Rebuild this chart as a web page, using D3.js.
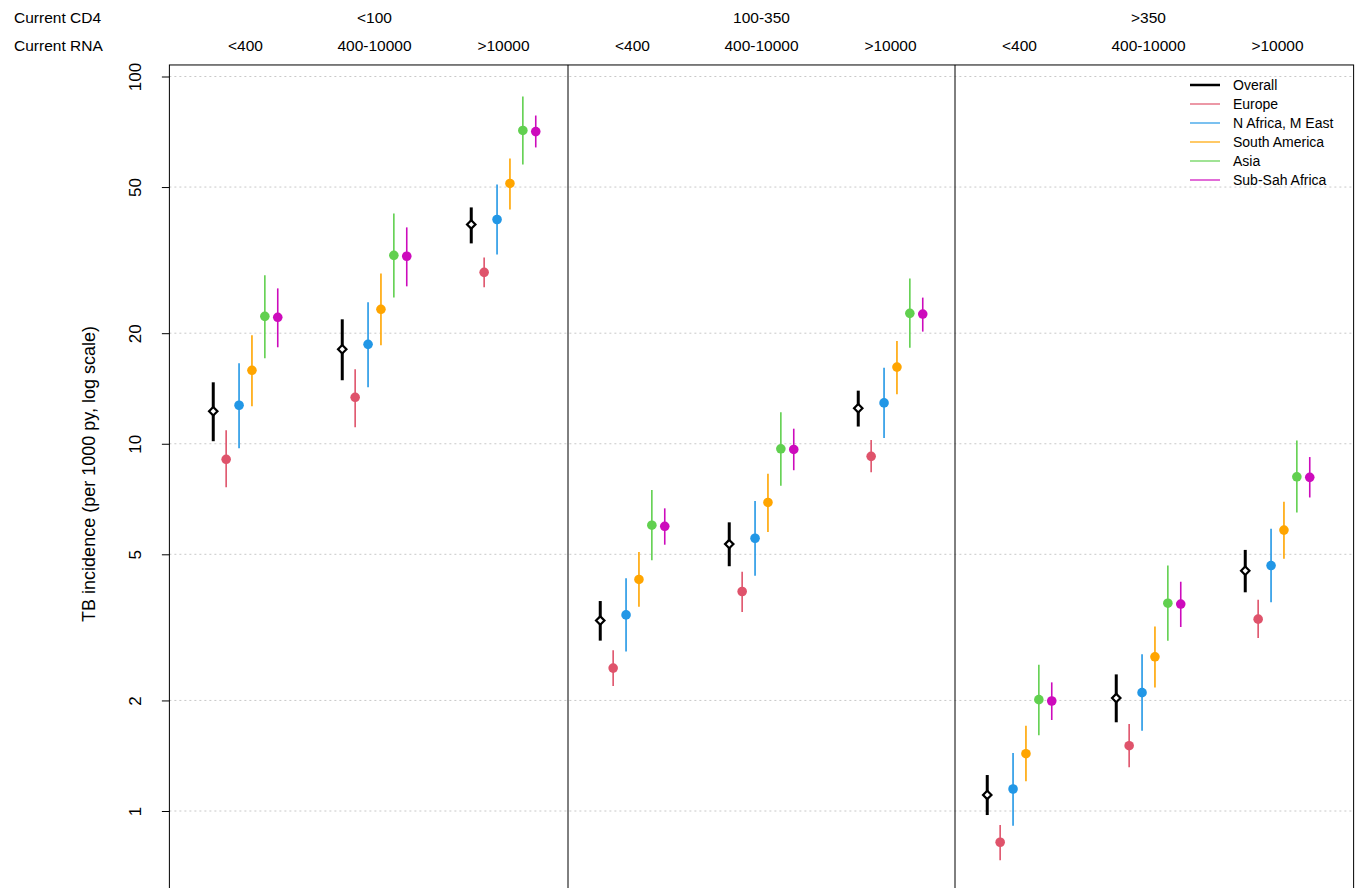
<!DOCTYPE html>
<html>
<head>
<meta charset="utf-8">
<script src="https://cdn.jsdelivr.net/npm/d3@7"></script>
<style>
  body { margin: 0; background: #fff; }
  svg { font-family: "Liberation Sans", Arial, sans-serif; }
</style>
</head>
<body>
<div id="chart"></div>
<script>
// data (TB incidence per 1000 py)
var cd4Labels = ["<100", "100-350", ">350"];
var rnaLabels = ["<400", "400-10000", ">10000", "<400", "400-10000", ">10000", "<400", "400-10000", ">10000"];
var seriesNames = ["Overall", "Europe", "N Africa, M East", "South America", "Asia", "Sub-Sah Africa"];
var seriesColors = ["#000000", "#DF536B", "#2297E6", "#FFA500", "#61D04F", "#CD0BBC"];
var yTicks = [1, 2, 5, 10, 20, 50, 100];

var overallEst = [12.26, 18.08, 39.56, 3.30, 5.33, 12.49, 1.106, 2.03, 4.51];
var overallLo  = [10.16, 14.89, 35.12, 2.91, 4.64, 11.14, 0.975, 1.744, 3.94];
var overallHi  = [14.70, 21.82, 44.01, 3.73, 6.11, 13.95, 1.253, 2.355, 5.14];

var europeEst = [9.07, 13.38, 29.29, 2.45, 3.96, 9.24, 0.822, 1.506, 3.33];
var europeLo  = [7.61, 11.09, 26.66, 2.19, 3.48, 8.36, 0.734, 1.315, 2.96];
var europeHi  = [10.88, 15.95, 32.17, 2.74, 4.48, 10.23, 0.916, 1.725, 3.76];

var nafricaEst = [12.73, 18.65, 40.8, 3.42, 5.53, 12.92, 1.148, 2.10, 4.66];
var nafricaLo  = [9.72, 14.25, 32.78, 2.72, 4.37, 10.37, 0.912, 1.655, 3.70];
var nafricaHi  = [16.56, 24.27, 50.83, 4.30, 6.98, 16.10, 1.438, 2.67, 5.87];

var samericaEst = [15.85, 23.23, 51.15, 4.27, 6.92, 16.17, 1.432, 2.63, 5.82];
var samericaLo  = [12.65, 18.54, 43.46, 3.60, 5.75, 13.63, 1.205, 2.17, 4.86];
var samericaHi  = [19.73, 29.1, 59.83, 5.07, 8.28, 19.05, 1.707, 3.18, 6.95];

var asiaEst = [22.23, 32.58, 71.3, 6.00, 9.69, 22.65, 2.01, 3.68, 8.13];
var asiaLo  = [17.09, 25.03, 57.6, 4.82, 7.69, 18.26, 1.607, 2.91, 6.50];
var asiaHi  = [28.74, 42.39, 88.2, 7.48, 12.18, 28.17, 2.50, 4.66, 10.21];

var ssaEst = [22.1, 32.4, 70.8, 5.96, 9.65, 22.55, 1.993, 3.66, 8.10];
var ssaLo  = [18.31, 26.83, 64.1, 5.31, 8.47, 20.2, 1.769, 3.17, 7.14];
var ssaHi  = [26.49, 38.83, 78.3, 6.67, 10.99, 25.0, 2.24, 4.21, 9.20];

var seriesEst = [overallEst, europeEst, nafricaEst, samericaEst, asiaEst, ssaEst];
var seriesLo = [overallLo, europeLo, nafricaLo, samericaLo, asiaLo, ssaLo];
var seriesHi = [overallHi, europeHi, nafricaHi, samericaHi, asiaHi, ssaHi];
var offsets = [-0.25, -0.15, -0.05, 0.05, 0.15, 0.25];

var width = 1361, height = 888;
var svg = d3.select("#chart").append("svg")
  .attr("width", width)
  .attr("height", height);

var x = d3.scaleLinear().domain([1, 9]).range([245.5, 1277.5]);
var y = d3.scaleLog().domain([1, 100]).range([811, 76.5]);

// plot region limits (the bottom runs off the picture)
var xMin = 0.41, xMax = 9.59, yMin = 0.6, yMax = 107.5;
var boxL = x(xMin), boxR = x(xMax), boxT = y(yMax), boxB = y(yMin);

// gridlines
svg.append("g").selectAll("line")
  .data(yTicks)
  .enter().append("line")
  .attr("x1", boxL).attr("x2", boxR)
  .attr("y1", function(d) { return y(d); })
  .attr("y2", function(d) { return y(d); })
  .attr("stroke", "#c8c8c8")
  .attr("stroke-width", 1)
  .attr("stroke-dasharray", "2,3");

// box + panel dividers
svg.append("rect")
  .attr("x", boxL).attr("y", boxT)
  .attr("width", boxR - boxL).attr("height", boxB - boxT)
  .attr("fill", "none").attr("stroke", "#000").attr("stroke-width", 1);

svg.append("g").selectAll("line")
  .data([3.5, 6.5])
  .enter().append("line")
  .attr("x1", function(d) { return x(d); })
  .attr("x2", function(d) { return x(d); })
  .attr("y1", boxT).attr("y2", boxB)
  .attr("stroke", "#000").attr("stroke-width", 1);

// y axis
var yAxis = svg.append("g")
  .attr("transform", "translate(" + boxL + ",0)")
  .call(d3.axisLeft(y).tickValues(yTicks).tickFormat(d3.format("d")).tickSize(7.5).tickSizeOuter(0));
yAxis.select(".domain").remove();
yAxis.selectAll("line").attr("stroke", "#000");
yAxis.selectAll("text")
  .attr("x", null).attr("dy", "0.35em")
  .attr("transform", "translate(-34,0) rotate(-90)")
  .attr("text-anchor", "middle")
  .style("font-size", "17px")
  .style("font-family", "'Liberation Sans', Arial, sans-serif")
  .attr("fill", "#000");

svg.append("text")
  .attr("transform", "translate(89,474) rotate(-90)")
  .attr("dy", "0.35em")
  .attr("text-anchor", "middle")
  .style("font-size", "18px")
  .text("TB incidence (per 1000 py, log scale)");

// header rows
svg.append("text").attr("x", 14).attr("y", 22.5).style("font-size", "15.5px").text("Current CD4");
svg.append("text").attr("x", 14).attr("y", 50.5).style("font-size", "15.5px").text("Current RNA");

svg.append("g").selectAll("text")
  .data(cd4Labels)
  .enter().append("text")
  .attr("x", function(d, i) { return x(2 + 3 * i); })
  .attr("y", 22.5)
  .attr("text-anchor", "middle")
  .style("font-size", "15.5px")
  .text(function(d) { return d; });

svg.append("g").selectAll("text")
  .data(rnaLabels)
  .enter().append("text")
  .attr("x", function(d, i) { return x(i + 1); })
  .attr("y", 50.5)
  .attr("text-anchor", "middle")
  .style("font-size", "15.5px")
  .text(function(d) { return d; });

// error bars and points
seriesNames.forEach(function(name, s) {
  var pts = seriesEst[s].map(function(v, i) {
    return { g: i + 1 + offsets[s], est: v, lo: seriesLo[s][i], hi: seriesHi[s][i] };
  });
  var g = svg.append("g").attr("class", "series");
  g.selectAll("line")
    .data(pts)
    .enter().append("line")
    .attr("x1", function(d) { return x(d.g); })
    .attr("x2", function(d) { return x(d.g); })
    .attr("y1", function(d) { return y(d.lo); })
    .attr("y2", function(d) { return y(d.hi); })
    .attr("stroke", seriesColors[s])
    .attr("stroke-width", s == 0 ? 3 : 1.6);

  if (s == 0) {
    g.selectAll("path")
      .data(pts)
      .enter().append("path")
      .attr("d", d3.symbol().type(d3.symbolDiamond2).size(45))
      .attr("transform", function(d) { return "translate(" + x(d.g) + "," + y(d.est) + ")"; })
      .attr("fill", "#fff")
      .attr("stroke", "#000")
      .attr("stroke-width", 2.2);
  } else {
    g.selectAll("circle")
      .data(pts)
      .enter().append("circle")
      .attr("cx", function(d) { return x(d.g); })
      .attr("cy", function(d) { return y(d.est); })
      .attr("r", 4.8)
      .attr("fill", seriesColors[s]);
  }
});

// legend
var legend = svg.append("g").attr("transform", "translate(1190,85)");
seriesNames.forEach(function(name, i) {
  legend.append("line")
    .attr("x1", 0).attr("x2", 30)
    .attr("y1", i * 19).attr("y2", i * 19)
    .attr("stroke", seriesColors[i])
    .attr("stroke-width", i == 0 ? 2.5 : 1.2);
  legend.append("text")
    .attr("x", 43).attr("y", i * 19)
    .attr("dy", "0.35em")
    .style("font-size", "14px")
    .text(name);
});
</script>
</body>
</html>
